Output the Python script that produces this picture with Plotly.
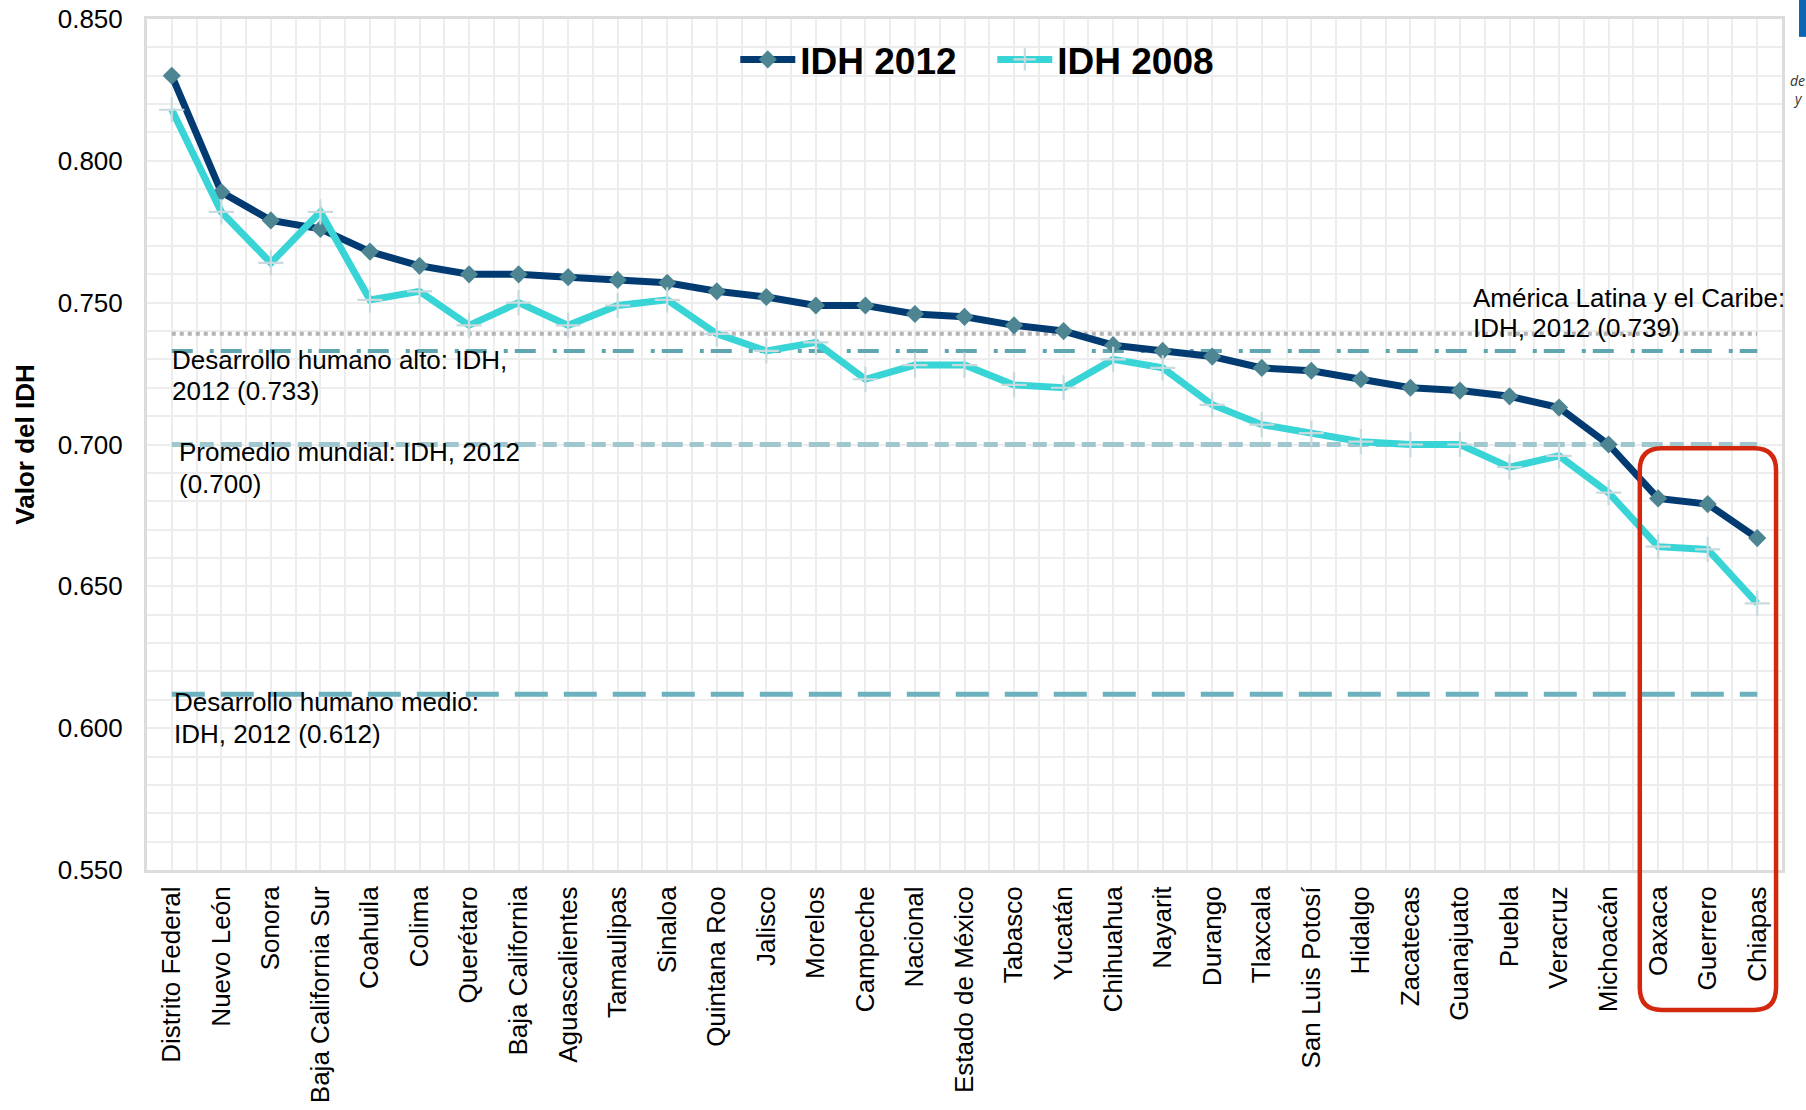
import plotly.graph_objects as go

# ---------------- data ----------------
categories = ["Distrito Federal", "Nuevo León", "Sonora", "Baja California Sur", "Coahuila",
              "Colima", "Querétaro", "Baja California", "Aguascalientes", "Tamaulipas",
              "Sinaloa", "Quintana Roo", "Jalisco", "Morelos", "Campeche", "Nacional",
              "Estado de México", "Tabasco", "Yucatán", "Chihuahua", "Nayarit", "Durango",
              "Tlaxcala", "San Luis Potosí", "Hidalgo", "Zacatecas", "Guanajuato", "Puebla",
              "Veracruz", "Michoacán", "Oaxaca", "Guerrero", "Chiapas"]

idh_2012 = [0.830, 0.789, 0.779, 0.776, 0.768, 0.763, 0.760, 0.760, 0.759, 0.758,
            0.757, 0.754, 0.752, 0.749, 0.749, 0.746, 0.745, 0.742, 0.740, 0.735,
            0.733, 0.731, 0.727, 0.726, 0.723, 0.720, 0.719, 0.717, 0.713, 0.700,
            0.681, 0.679, 0.667]

idh_2008 = [0.818, 0.782, 0.764, 0.782, 0.751, 0.754, 0.742, 0.750, 0.742, 0.749,
            0.751, 0.739, 0.733, 0.736, 0.723, 0.728, 0.728, 0.721, 0.720, 0.730,
            0.727, 0.714, 0.707, 0.704, 0.701, 0.700, 0.700, 0.692, 0.696, 0.683,
            0.664, 0.663, 0.644]

series_names = ["IDH 2012", "IDH 2008"]

ref_values = [0.739, 0.733, 0.700, 0.612]
ref_labels = [["América Latina y el Caribe:", "IDH, 2012 (0.739)"],
              ["Desarrollo humano alto: IDH,", "2012 (0.733)"],
              ["Promedio mundial: IDH, 2012", "(0.700)"],
              ["Desarrollo humano medio:", "IDH, 2012 (0.612)"]]

highlighted = ["Oaxaca", "Guerrero", "Chiapas"]

y_ticks = [0.55, 0.60, 0.65, 0.70, 0.75, 0.80, 0.85]
y_title = "Valor del IDH"

# ---------------- styles ----------------
FONT = "Liberation Sans, Arial, sans-serif"
NAVY = "#023b72"
NAVY_MARK = "#4d8692"
CYAN = "#38d4d6"
CROSS = "#c9dade"
GRID = "#ededed"

ref_styles = [
    dict(color="#b3b3b3", width=4, dash="4px,4px"),
    dict(color="#5fa6b0", width=4, dash="21px,17px,4px,7px"),
    dict(color="#a0c6ce", width=5, dash="21px,7px,14px,7px"),
    dict(color="#6cb1be", width=5, dash="33px,16px"),
]
# label placement: paper x (left), px offsets of each text line from the reference line
label_x = [0.8097, 0.0142, 0.0182, 0.0150]
label_off = [[-36, -6], [9, 40], [7, 39], [8, 40]]

xs = list(range(len(categories)))

fig = go.Figure()

# reference lines (drawn under the data)
for v, st in zip(ref_values, ref_styles):
    fig.add_trace(go.Scatter(
        x=[xs[0], xs[-1]], y=[v, v], mode="lines",
        line=dict(color=st["color"], width=st["width"], dash=st["dash"]),
        showlegend=False, hoverinfo="skip"))

fig.add_trace(go.Scatter(
    x=xs, y=idh_2012, name=series_names[0], mode="lines+markers",
    line=dict(color=NAVY, width=7),
    marker=dict(symbol="diamond", size=14, color=NAVY_MARK, line=dict(width=0))))

fig.add_trace(go.Scatter(
    x=xs, y=idh_2008, name=series_names[1], mode="lines+markers",
    line=dict(color=CYAN, width=7),
    marker=dict(symbol="cross-thin", size=18, color=CROSS, line=dict(color=CROSS, width=2.2))))

annotations = []
for j, lines in enumerate(ref_labels):
    for k, txt in enumerate(lines):
        annotations.append(dict(
            text=txt, xref="paper", yref="y", x=label_x[j], y=ref_values[j],
            xanchor="left", yanchor="middle", yshift=-label_off[j][k],
            showarrow=False, font=dict(family=FONT, size=26, color="black")))

# small cropped fragments at the right edge of the original slide
annotations.append(dict(text="de", xref="paper", yref="paper", x=1.0037, y=0.928,
                        xanchor="left", yanchor="middle", showarrow=False,
                        font=dict(family="Open Sans, sans-serif", size=14, color="#333333", style="italic")))
annotations.append(dict(text="y", xref="paper", yref="paper", x=1.0055, y=0.907,
                        xanchor="left", yanchor="middle", showarrow=False,
                        font=dict(family="Open Sans, sans-serif", size=14, color="#333333", style="italic")))

# rounded red highlight around the last three states
i0 = categories.index(highlighted[0])
i1 = categories.index(highlighted[-1])
x0, x1 = i0 - 0.37, i1 + 0.38
y0, y1 = -0.1645, 0.4955
rx, ry = 0.44, 0.026
path = (f"M{x0+rx},{y1} L{x1-rx},{y1} Q{x1},{y1} {x1},{y1-ry} "
        f"L{x1},{y0+ry} Q{x1},{y0} {x1-rx},{y0} L{x0+rx},{y0} "
        f"Q{x0},{y0} {x0},{y0+ry} L{x0},{y1-ry} Q{x0},{y1} {x0+rx},{y1} Z")

shapes = [
    dict(type="path", xref="x", yref="paper", path=path,
         line=dict(color="#d3280d", width=4.5), fillcolor="rgba(0,0,0,0)", layer="above"),
    dict(type="rect", xref="paper", yref="paper", x0=1.0104, x1=1.02, y0=0.979, y1=1.03,
         line=dict(width=0), fillcolor="#0b67b5"),
]

fig.update_layout(
    width=1806, height=1110,
    margin=dict(l=147, r=24, t=19, b=240, autoexpand=False),
    paper_bgcolor="white", plot_bgcolor="white",
    font=dict(family=FONT, color="black"),
    showlegend=True,
    legend=dict(orientation="h", x=0.517, xanchor="center", y=0.952, yanchor="middle",
                bgcolor="rgba(0,0,0,0)", itemwidth=55, entrywidth=187,
                font=dict(family=FONT, size=37, color="black", weight="bold")),
    annotations=annotations,
    shapes=shapes,
)

fig.update_xaxes(
    range=[-0.5, len(categories) - 0.5], automargin=False,
    tickmode="array", tickvals=xs, ticktext=categories, tickangle=-90,
    tickfont=dict(family=FONT, size=26, color="black"),
    ticks="", ticklabelstandoff=3,
    showgrid=True, gridcolor=GRID, gridwidth=2,
    minor=dict(dtick=0.5, tick0=0, showgrid=True, gridcolor=GRID, gridwidth=2),
    showline=True, linecolor="#dcdcdc", linewidth=3, mirror=True,
    zeroline=False,
)

fig.update_yaxes(
    range=[0.55, 0.85], tickmode="array", tickvals=y_ticks, automargin=False,
    tickformat=".3f",
    tickfont=dict(family=FONT, size=26, color="black"),
    ticks="", ticklabelstandoff=16,
    showgrid=True, gridcolor=GRID, gridwidth=2,
    minor=dict(dtick=0.01, tick0=0.55, showgrid=True, gridcolor=GRID, gridwidth=2),
    showline=True, linecolor="#dcdcdc", linewidth=3, mirror=True,
    zeroline=False,
    title=dict(text=y_title, font=dict(family=FONT, size=26, color="black", weight="bold"),
               standoff=16),
)

fig.write_html("out.html", config={"displayModeBar": False},
               post_script="document.body.style.margin='0';document.body.style.overflow='hidden';")
